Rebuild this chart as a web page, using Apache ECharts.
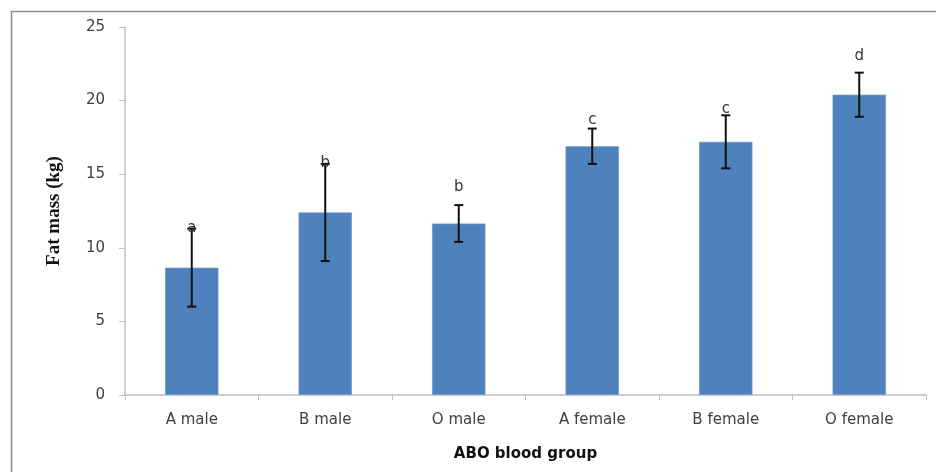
<!DOCTYPE html>
<html>
<head>
<meta charset="utf-8">
<script src="https://cdn.jsdelivr.net/npm/echarts@6/dist/echarts.min.js"></script>
<style>html,body{margin:0;padding:0;background:#fff}#c{width:936px;height:472px}</style>
</head>
<body>
<div id="c"></div>
<script>
var categories = ['A male', 'B male', 'O male', 'A female', 'B female', 'O female'];
var fatMass = [8.65, 12.4, 11.65, 16.9, 17.2, 20.4];
var errorSD = [2.65, 3.3, 1.25, 1.2, 1.8, 1.5];
var sigLetters = ['a', 'b', 'b', 'c', 'c', 'd'];
var letterPos = [11.35, 15.75, 14.1, 18.7, 19.4, 23.0];
var yTicks = [0, 5, 10, 15, 20, 25];

var chart = echarts.init(document.getElementById('c'), null, {renderer: 'canvas'});
var labelFont = '"DejaVu Sans", "Open Sans", sans-serif';

var errData = categories.map(function (c, i) { return [i, fatMass[i] - errorSD[i], fatMass[i] + errorSD[i]]; });
var letterData = categories.map(function (c, i) { return [i, letterPos[i], sigLetters[i]]; });

chart.setOption({
  animation: false,
  graphic: [{
    type: 'rect', left: 9, top: 9, silent: true, z: -10,
    shape: {width: 960, height: 500},
    style: {fill: 'none', stroke: '#8c8c8c', lineWidth: 1.5}
  }],
  grid: {left: 125, right: 10, top: 27, bottom: 77},
  xAxis: {
    type: 'category',
    data: categories,
    name: 'ABO blood group',
    nameLocation: 'middle',
    nameGap: 52,
    nameTextStyle: {fontFamily: labelFont, fontWeight: 'bold', fontSize: 15, color: '#111'},
    axisLine: {lineStyle: {color: '#bfbfbf', width: 1.5}},
    axisTick: {show: true, length: 5, lineStyle: {color: '#bfbfbf'}},
    axisLabel: {fontFamily: labelFont, fontSize: 15, color: '#404040', margin: 18}
  },
  yAxis: {
    type: 'value',
    min: yTicks[0], max: yTicks[yTicks.length - 1], interval: 5,
    name: 'Fat mass (kg)',
    nameLocation: 'middle',
    nameGap: 61,
    nameRotate: 90,
    nameTextStyle: {fontFamily: '"Liberation Serif", "DejaVu Serif", serif', fontWeight: 'bold', fontSize: 19, color: '#111'},
    axisLine: {show: true, lineStyle: {color: '#bfbfbf', width: 1.5}},
    axisTick: {show: true, length: 6, lineStyle: {color: '#bfbfbf'}},
    splitLine: {show: false},
    axisLabel: {fontFamily: labelFont, fontSize: 15, color: '#404040', margin: 20}
  },
  series: [{
    type: 'bar',
    data: fatMass,
    barWidth: '40%',
    itemStyle: {color: '#4f81bd', borderColor: '#6f98cc', borderWidth: 0.8}
  }, {
    type: 'custom',
    data: errData,
    z: 10,
    renderItem: function (params, api) {
      var x = api.value(0);
      var lo = api.coord([x, api.value(1)]);
      var hi = api.coord([x, api.value(2)]);
      var hw = 4.5;
      var st = {stroke: '#111', lineWidth: 2};
      return {type: 'group', children: [
        {type: 'line', shape: {x1: lo[0], y1: lo[1], x2: hi[0], y2: hi[1]}, style: st},
        {type: 'line', shape: {x1: lo[0] - hw, y1: lo[1], x2: lo[0] + hw, y2: lo[1]}, style: st},
        {type: 'line', shape: {x1: hi[0] - hw, y1: hi[1], x2: hi[0] + hw, y2: hi[1]}, style: st}
      ]};
    }
  }, {
    type: 'custom',
    data: letterData,
    z: 11,
    renderItem: function (params, api) {
      var p = api.coord([api.value(0), api.value(1)]);
      return {type: 'text', x: p[0], y: p[1], style: {
        text: sigLetters[params.dataIndex], fontFamily: labelFont, fontSize: 15, fill: '#333',
        align: 'center', verticalAlign: 'middle'
      }};
    }
  }]
});
</script>
</body>
</html>
